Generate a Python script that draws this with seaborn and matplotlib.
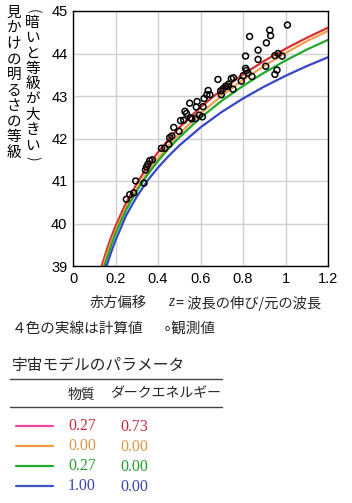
import numpy as np
import pandas as pd
import matplotlib
matplotlib.use("Agg")
import matplotlib.pyplot as plt
from matplotlib.lines import Line2D
import seaborn as sns

sns.set_theme(style="white")
plt.rcParams['font.family'] = ['Noto Sans CJK JP', 'DejaVu Sans']
plt.rcParams['mathtext.fontset'] = 'stix'

# ---------------- data ----------------
z_curve = [0.12, 0.14, 0.16, 0.18, 0.20, 0.25, 0.30, 0.35, 0.40, 0.45, 0.50,
           0.60, 0.70, 0.80, 0.90, 1.00, 1.10, 1.20]
m_red = [38.717, 39.081, 39.399, 39.682, 39.937, 40.486, 40.941, 41.332, 41.675,
         41.980, 42.256, 42.737, 43.149, 43.508, 43.826, 44.111, 44.370, 44.606]
m_orange = [38.600, 38.960, 39.280, 39.565, 39.825, 40.376, 40.819, 41.201, 41.536,
            41.837, 42.109, 42.591, 43.007, 43.376, 43.708, 44.011, 44.289, 44.530]
m_green = [38.500, 38.870, 39.190, 39.490, 39.765, 40.320, 40.771, 41.144, 41.471,
           41.762, 42.026, 42.489, 42.887, 43.237, 43.550, 43.833, 44.092, 44.320]
m_blue = [38.380, 38.720, 39.030, 39.330, 39.600, 40.190, 40.630, 41.007, 41.315,
          41.588, 41.834, 42.261, 42.625, 42.941, 43.222, 43.474, 43.703, 43.912]

obs_z = [0.251, 0.267, 0.286, 0.295, 0.334, 0.341, 0.346, 0.353, 0.361, 0.373,
         0.416, 0.432, 0.451, 0.455, 0.465, 0.474, 0.499, 0.506, 0.521, 0.527,
         0.534, 0.549, 0.553, 0.559, 0.577, 0.580, 0.584, 0.594, 0.609, 0.612,
         0.617, 0.630, 0.636, 0.644, 0.682, 0.695, 0.698, 0.706, 0.718, 0.728,
         0.732, 0.745, 0.755, 0.753, 0.792, 0.801, 0.812, 0.812, 0.817, 0.823,
         0.842, 0.831, 0.871, 0.871, 0.910, 0.907, 0.926, 0.930, 0.950, 0.960,
         0.950, 0.965, 0.984, 1.009]
obs_m = [40.57, 40.68, 40.72, 41.00, 40.95, 41.26, 41.33, 41.40, 41.48, 41.50,
         41.77, 41.77, 41.86, 42.02, 42.06, 42.26, 42.17, 42.42, 42.43, 42.64,
         42.59, 42.83, 42.49, 42.46, 42.47, 42.74, 42.87, 42.55, 42.51, 42.75,
         42.94, 43.03, 43.13, 43.03, 43.39, 43.12, 43.03, 43.17, 43.23, 43.23,
         43.28, 43.41, 43.43, 43.16, 43.35, 43.48, 43.65, 43.94, 43.60, 43.54,
         43.46, 44.40, 44.08, 43.86, 44.25, 43.70, 44.55, 44.42, 43.51, 43.61,
         43.95, 44.00, 43.94, 44.67]

model_names = ["r", "o", "g", "b"]
curve_colors = {"r": "#d8302e", "o": "#f0a04c", "g": "#22a82a", "b": "#3646c8"}

param_matter = ["0.27", "0.00", "0.27", "1.00"]
param_dark = ["0.73", "0.00", "0.00", "0.00"]
legend_line_colors = ["#e8479a", "#ee9a48", "#22a82a", "#4050c8"]
legend_text_colors = ["#c8283c", "#e0964a", "#22a02a", "#3a46b0"]

x_ticks = [0, 0.2, 0.4, 0.6, 0.8, 1.0, 1.2]
x_ticklabels = ["0", "0.2", "0.4", "0.6", "0.8", "1", "1.2"]
y_ticks = [39, 40, 41, 42, 43, 44, 45]

# ---------------- figure ----------------
W, H = 352, 503
fig = plt.figure(figsize=(W / 100, H / 100), dpi=100)
fig.patch.set_facecolor("white")

def fx(px):
    return px / W

def fy(py):
    return 1 - py / H

ax = fig.add_axes([fx(73), fy(266), (328 - 73) / W, (266 - 11) / H])

df = pd.DataFrame({
    "z": z_curve * 4,
    "m": m_red + m_orange + m_green + m_blue,
    "model": sum([[n] * len(z_curve) for n in model_names], []),
})
sns.lineplot(data=df, x="z", y="m", hue="model", palette=curve_colors,
             hue_order=model_names, linewidth=1.6, legend=False, ax=ax,
             sort=False, estimator=None)

sns.scatterplot(x=obs_z, y=obs_m, ax=ax, marker="o", s=18,
                facecolor="none", edgecolor="black", linewidth=1.1, zorder=5)

ax.set_xlim(0, 1.2)
ax.set_ylim(39, 45)
ax.set_xticks(x_ticks)
ax.set_xticklabels(x_ticklabels)
ax.set_yticks(y_ticks)
ax.set_xlabel("")
ax.set_ylabel("")
ax.grid(True, color="#cfcfcf", linewidth=1.0)
ax.set_axisbelow(True)
for s in ax.spines.values():
    s.set_visible(True)
    s.set_color("black")
    s.set_linewidth(1.0)
ax.tick_params(direction="in", length=4, width=1, color="black", pad=4,
               labelsize=10.5, labelcolor="black")
for lab in ax.get_xticklabels() + ax.get_yticklabels():
    lab.set_family("Liberation Sans")

# vertical y-axis label (two columns, upright characters)
col1 = "見かけの明るさの等級"
for i, ch in enumerate(col1):
    fig.text(fx(14), fy(13 + i * 15.5), ch, ha="center", va="center",
             fontsize=10.5, color="black")
col2 = "暗いと等級が大きい"
fig.text(fx(32.5), fy(11), "(", ha="center", va="center", fontsize=10,
         rotation=-90)
for i, ch in enumerate(col2):
    fig.text(fx(32.5), fy(23 + i * 15.3), ch, ha="center", va="center",
             fontsize=10.5, color="black")
fig.text(fx(32.5), fy(158), ")", ha="center", va="center", fontsize=10,
         rotation=-90)

# x label
fig.text(fx(90), fy(303), "赤方偏移", ha="left", va="center", fontsize=10.3)
fig.text(fx(168), fy(302), "z", ha="left", va="center", fontsize=11.5,
         family="Liberation Serif", style="italic")
fig.text(fx(176), fy(303), "= 波長の伸び/元の波長", ha="left", va="center",
         fontsize=10.3)

# notes
fig.text(fx(12), fy(329), "４色の実線は計算値", ha="left", va="center",
         fontsize=10.5)
fig.text(fx(163), fy(329), "∘観測値", ha="left", va="center", fontsize=10.5,
         family=["Noto Sans CJK JP", "DejaVu Sans"])

# parameter table
fig.text(fx(12), fy(365), "宇宙モデルのパラメータ", ha="left", va="center",
         fontsize=11.3)
fig.add_artist(Line2D([fx(10), fx(222)], [fy(379), fy(379)], color="#444444",
                      linewidth=1.0))
fig.text(fx(68), fy(395), "物質", ha="left", va="center", fontsize=10)
fig.text(fx(110), fy(393), "ダークエネルギー", ha="left", va="center", fontsize=10)
fig.add_artist(Line2D([fx(10), fx(222)], [fy(407), fy(407)], color="#444444",
                      linewidth=1.0))
row_y = [426, 446, 466, 486]
for yy, lc, tc, pm, pd_ in zip(row_y, legend_line_colors, legend_text_colors,
                               param_matter, param_dark):
    fig.add_artist(Line2D([fx(16), fx(53)], [fy(yy), fy(yy)], color=lc,
                          linewidth=1.6))
    fig.text(fx(68), fy(yy), pm, ha="left", va="center", fontsize=11.5,
             family="Liberation Serif", color=tc)
    fig.text(fx(120), fy(yy + 1), pd_, ha="left", va="center", fontsize=11.5,
             family="Liberation Serif", color=tc)

fig.savefig("out.png", dpi=100, facecolor="white")
